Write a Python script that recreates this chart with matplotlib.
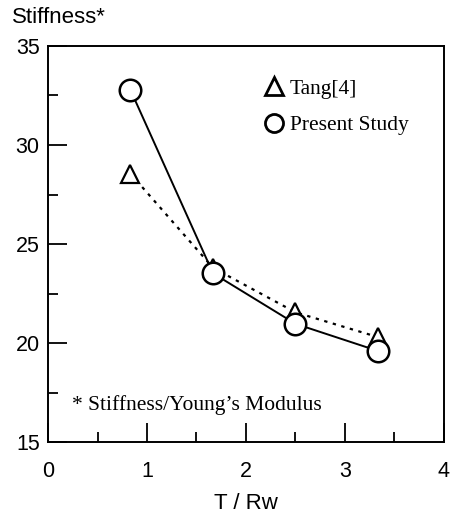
import matplotlib
matplotlib.use("Agg")
import matplotlib.pyplot as plt
from matplotlib.ticker import MultipleLocator
from matplotlib.lines import Line2D

x = [0.833, 1.667, 2.5, 3.333]
tang = [28.55, 23.8, 21.55, 20.3]
present = [32.78, 23.52, 20.97, 19.6]
xticks = [0, 1, 2, 3, 4]
yticks = [15, 20, 25, 30, 35]

fig = plt.figure(figsize=(4.53, 5.15), dpi=100)
ax = fig.add_axes([0.106, 0.1417, 0.874, 0.769])

ax.plot(x, tang, linestyle=(0, (1.5, 2.5)), color='black', lw=1.6,
        marker='^', markersize=13, markerfacecolor='white', markeredgecolor='black',
        markeredgewidth=1.6, zorder=2)
ax.plot(x, present, linestyle='-', color='black', lw=1.4,
        marker='o', markersize=15.5, markerfacecolor='white', markeredgecolor='black',
        markeredgewidth=1.8, zorder=3)

ax.set_xlim(0, 4)
ax.set_ylim(15, 35)
ax.set_xticks(xticks)
ax.set_yticks(yticks)
ax.xaxis.set_minor_locator(MultipleLocator(0.5))
ax.yaxis.set_minor_locator(MultipleLocator(2.5))
ax.tick_params(axis='both', which='major', direction='in', length=14, width=1.3,
               labelsize=15.5, top=False, right=False)
ax.tick_params(axis='x', which='major', pad=13.5)
ax.tick_params(axis='y', which='major', pad=6)
ax.tick_params(axis='both', which='minor', direction='in', length=7, width=1.3,
               top=False, right=False)
for lab in ax.get_xticklabels() + ax.get_yticklabels():
    lab.set_fontfamily('Liberation Sans')
for s in ax.spines.values():
    s.set_linewidth(1.4)

ax.set_xlabel('T / Rw', fontsize=16, family='Liberation Sans', labelpad=8)
fig.text(0.026, 0.966, 'Stiffness*', fontsize=16, family='Liberation Sans',
         ha='left', va='center')

handles = [
    Line2D([], [], linestyle='none', marker='^', markersize=13, markerfacecolor='white',
           markeredgecolor='black', markeredgewidth=2.0),
    Line2D([], [], linestyle='none', marker='o', markersize=13, markerfacecolor='white',
           markeredgecolor='black', markeredgewidth=2.0),
]
ax.legend(handles, ['Tang[4]', 'Present Study'], loc='upper left',
          bbox_to_anchor=(0.51, 0.955), frameon=False, handlelength=0.8,
          handletextpad=0.35, labelspacing=0.75, borderpad=0.2,
          prop={'family': 'Liberation Serif', 'size': 15.5})

ax.text(0.06, 0.094, '* Stiffness/Young\u2019s Modulus', transform=ax.transAxes,
        fontsize=15.5, family='Liberation Serif', ha='left', va='center')

fig.savefig('out.png', dpi=100)
